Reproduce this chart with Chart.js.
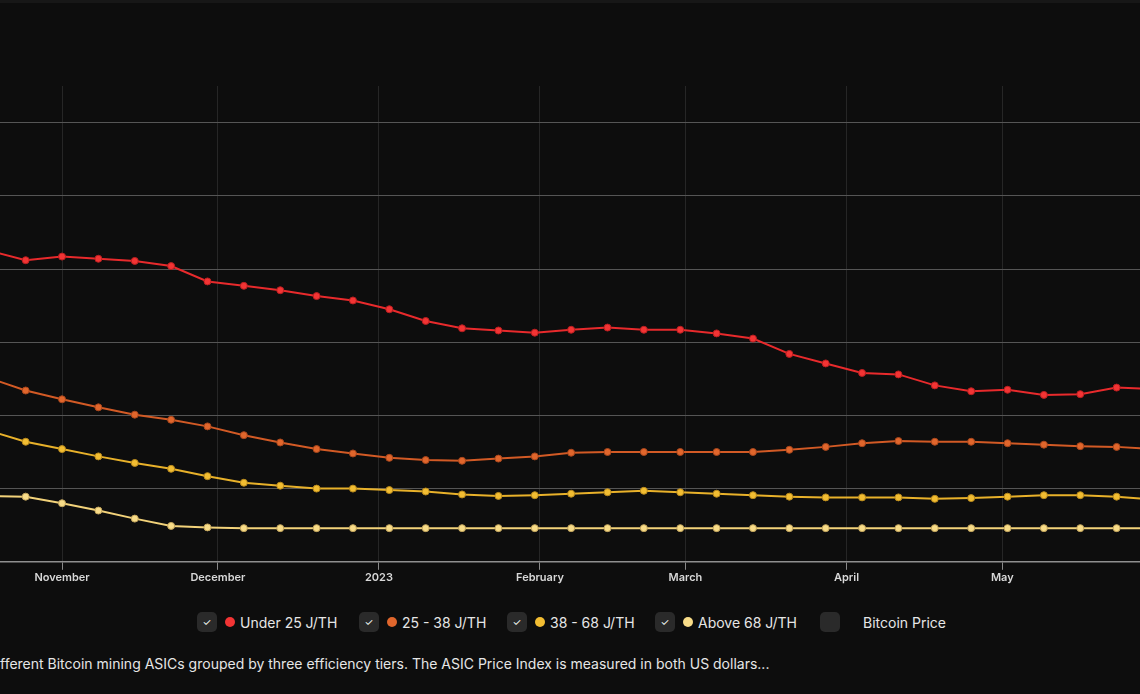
<!DOCTYPE html>
<html>
<head>
<meta charset="utf-8">
<script src="https://cdn.jsdelivr.net/npm/chart.js@4.4.1/dist/chart.umd.min.js"></script>
<style>
  html, body { margin: 0; padding: 0; background: #0d0d0d; width: 1140px; height: 694px; overflow: hidden; font-family: Inter, "Noto Sans", sans-serif; }
  .topbar { position: absolute; left: 0; top: 0; width: 1140px; height: 3px; background: #171717; }
  .wrap { position: absolute; left: 0; top: 0; width: 1140px; height: 600px; }
  .legend { position: absolute; top: 612px; left: 0; width: 1140px; height: 20px; color: #e6e6e6; font-size: 14px; }
  .item { position: absolute; top: 0; height: 20px; display: flex; align-items: center; white-space: nowrap; }
  .box { width: 20px; height: 20px; border-radius: 5px; background: #2a2a2a; display: flex; align-items: center; justify-content: center; color: #fff; font-size: 10px; margin-right: 8px; }
  .dot { width: 10px; height: 10px; border-radius: 50%; margin-right: 5px; }
  .caption { position: absolute; left: 0; top: 655px; color: #e6e6e6; font-size: 14px; white-space: nowrap; }
</style>
</head>
<body>
<div class="topbar"></div>
<div class="wrap"><canvas id="chart"></canvas></div>
<div class="legend" id="legend"></div>
<div class="caption">fferent Bitcoin mining ASICs grouped by three efficiency tiers. The ASIC Price Index is measured in both US dollars...</div>
<script>
// days since 2022-11-01, one point per week
const days = [-14, -7, 0, 7, 14, 21, 28, 35, 42, 49, 56, 63, 70, 77, 84, 91, 98, 105, 112, 119, 126, 133, 140, 147, 154, 161, 168, 175, 182, 189, 196, 203, 210];

const under25 = [42.5, 41.2, 41.7, 41.4, 41.1, 40.4, 38.3, 37.7, 37.1, 36.3, 35.7, 34.5, 32.9, 31.9, 31.6, 31.3, 31.7, 32.0, 31.7, 31.7, 31.2, 30.5, 28.4, 27.1, 25.8, 25.6, 24.1, 23.3, 23.5, 22.8, 22.9, 23.8, 23.6];
const j25to38 = [25.1, 23.4, 22.2, 21.1, 20.1, 19.4, 18.5, 17.3, 16.3, 15.4, 14.8, 14.2, 13.9, 13.8, 14.1, 14.4, 14.9, 15.0, 15.0, 15.0, 15.0, 15.0, 15.3, 15.7, 16.2, 16.5, 16.4, 16.4, 16.2, 16.0, 15.8, 15.7, 15.4];
const j38to68 = [17.9, 16.4, 15.4, 14.4, 13.5, 12.7, 11.7, 10.8, 10.4, 10.0, 10.0, 9.8, 9.6, 9.2, 9.0, 9.1, 9.3, 9.5, 9.7, 9.5, 9.3, 9.1, 8.9, 8.8, 8.8, 8.8, 8.6, 8.7, 8.9, 9.1, 9.1, 8.9, 8.5];
const above68 = [9.0, 8.9, 8.0, 7.0, 5.9, 4.9, 4.7, 4.6, 4.6, 4.6, 4.6, 4.6, 4.6, 4.6, 4.6, 4.6, 4.6, 4.6, 4.6, 4.6, 4.6, 4.6, 4.6, 4.6, 4.6, 4.6, 4.6, 4.6, 4.6, 4.6, 4.6, 4.6, 4.6];

const monthDays   = [0, 30, 61, 92, 120, 151, 181];
const monthLabels = ["November", "December", "2023", "February", "March", "April", "May"];

const SERIES = [
  { label: "Under 25 J/TH", data: under25, color: "#e82a2c", dot: "#f23434", border: "#b81e20" },
  { label: "25 - 38 J/TH",  data: j25to38, color: "#d25a25", dot: "#e0662c", border: "#a8461c" },
  { label: "38 - 68 J/TH",  data: j38to68, color: "#e8b12a", dot: "#f2bd32", border: "#b8891c" },
  { label: "Above 68 J/TH", data: above68, color: "#f2d27a", dot: "#f8dc88", border: "#c2a45c" },
];

// legend (html, like the page)
const LEFTS = [197, 359, 507, 655, 820];
const legend = document.getElementById("legend");
legend.innerHTML = SERIES.map((s, i) => `
  <div class="item" style="left:${LEFTS[i]}px">
    <div class="box">✓</div>
    <div class="dot" style="background:${s.dot}"></div>${s.label}
  </div>`).join("") + `
  <div class="item" style="left:${LEFTS[4]}px">
    <div class="box"></div><span style="margin-left:15px">Bitcoin Price</span>
  </div>`;

const ctx = document.getElementById("chart").getContext("2d");
new Chart(ctx, {
  type: "line",
  data: {
    datasets: SERIES.map(s => ({
      label: s.label,
      data: days.map((d, i) => ({ x: d, y: s.data[i] })),
      borderColor: s.color,
      borderWidth: 2,
      pointRadius: 3.5,
      pointBackgroundColor: s.dot,
      pointBorderColor: s.border,
      pointBorderWidth: 1,
      tension: 0,
    })),
  },
  options: {
    responsive: true,
    maintainAspectRatio: false,
    animation: false,
    layout: { autoPadding: false, padding: { top: 86, left: 0, right: 0, bottom: 15 } },
    plugins: { legend: { display: false }, tooltip: { enabled: false } },
    scales: {
      x: {
        type: "linear",
        min: -11.94,
        max: 207.5,
        afterBuildTicks: axis => { axis.ticks = monthDays.map(v => ({ value: v })); },
        afterFit: axis => { axis.paddingLeft = 0; axis.paddingRight = 0; },
        ticks: {
          autoSkip: false,
          maxRotation: 0,
          padding: 1,
          color: "#d8d8d8",
          font: { family: "Inter", size: 11, weight: "600" },
          callback: v => monthLabels[monthDays.indexOf(v)],
        },
        grid: { color: "#262626", lineWidth: 1, tickColor: "#8a8a8a", tickLength: 8 },
        border: { color: "#8f8f8f", width: 1.5 },
      },
      y: {
        min: 0,
        max: 65,
        afterBuildTicks: axis => { axis.ticks = [0, 10, 20, 30, 40, 50, 60].map(v => ({ value: v })); },
        afterFit: axis => { axis.width = 0; },
        ticks: { display: false },
        grid: { color: "#555555", lineWidth: 1, drawTicks: false },
        border: { display: false },
      },
    },
  },
});
</script>
</body>
</html>
